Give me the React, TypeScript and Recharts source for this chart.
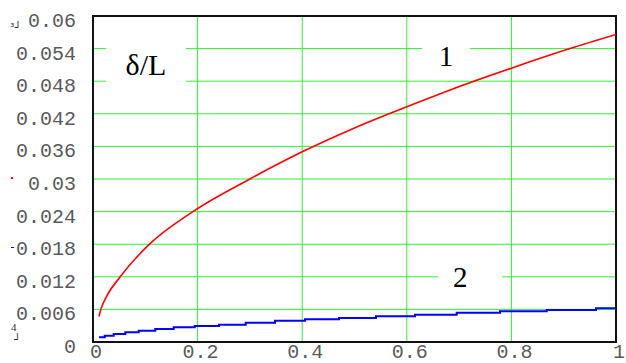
import { LineChart, Line, XAxis, YAxis, CartesianGrid, ReferenceArea } from "recharts";

// curve 1 (red)
const redX = [0.0115, 0.015, 0.0255, 0.052, 0.108, 0.191, 0.3, 0.4, 0.5, 0.6, 0.683, 0.8, 0.912, 1.0];
const redY = [0.0047, 0.006, 0.0083, 0.012, 0.018, 0.024, 0.03, 0.035, 0.0394, 0.0433, 0.0464, 0.0504, 0.054, 0.0566];

// curve 2 (blue), a staircase
const blueX = [0.0115, 0.0224, 0.0396, 0.0618, 0.0874, 0.1191, 0.1543, 0.1945, 0.2409, 0.292, 0.348, 0.4054, 0.4704, 0.5411, 0.6157, 0.6954, 0.7782, 0.8675, 0.9618, 1.0];
const blueY = [0.00087, 0.00116, 0.00147, 0.00179, 0.00208, 0.00239, 0.00271, 0.00294, 0.00318, 0.00355, 0.00392, 0.00418, 0.00442, 0.00473, 0.00502, 0.00539, 0.00565, 0.00589, 0.0062, 0.0062];

const xTicks = [0, 0.2, 0.4, 0.6, 0.8, 1];
const xLabels = ["0", "0.2", "0.4", "0.6", "0.8", "1"];
const yTicks = [0, 0.006, 0.012, 0.018, 0.024, 0.03, 0.036, 0.042, 0.048, 0.054, 0.06];
const yLabels = ["0", "0.006", "0.012", "0.018", "0.024", "0.03", "0.036", "0.042", "0.048", "0.054", "0.06"];

const red = redX.map((x, i) => ({ x, y: redY[i] }));
const blue = blueX.map((x, i) => ({ x, y: blueY[i] }));

const tickFont = {
  fontFamily: "'Liberation Mono', 'DejaVu Sans Mono', monospace",
  fontSize: 20,
  fill: "#5a5a5a",
};

function YTick({ x, y, payload }: any) {
  const i = yTicks.findIndex((t) => Math.abs(t - payload.value) < 1e-9);
  return (
    <text x={x} y={y + 11} textAnchor="end" {...tickFont}>
      {yLabels[i]}
    </text>
  );
}

function XTick({ x, y, payload }: any) {
  const i = xTicks.findIndex((t) => Math.abs(t - payload.value) < 1e-9);
  return (
    <text x={x + 3} y={y + 16} textAnchor="middle" {...tickFont}>
      {xLabels[i]}
    </text>
  );
}

const serif = "'Liberation Serif', 'DejaVu Serif', serif";

export default function App() {
  return (
    <div style={{ position: "absolute", left: 0, top: 0, width: 626, height: 363, background: "#fff" }}>
      <LineChart width={626} height={363} margin={{ top: 16, right: 10, left: 0, bottom: 0 }}>
        <CartesianGrid stroke="#33ee33" strokeWidth={1} vertical horizontal />
        <XAxis
          dataKey="x"
          type="number"
          domain={[0, 1]}
          ticks={xTicks}
          height={21}
          tickSize={0}
          tickMargin={0}
          axisLine={false}
          tickLine={false}
          tick={<XTick />}
          allowDataOverflow
        />
        <YAxis
          dataKey="y"
          type="number"
          domain={[0, 0.06]}
          ticks={yTicks}
          width={93}
          tickSize={0}
          tickMargin={17}
          axisLine={false}
          tickLine={false}
          tick={<YTick />}
          allowDataOverflow
        />
        <ReferenceArea x1={0} x2={1} y1={0} y2={0.06} fill="none" stroke="#111" strokeWidth={2} />
        <Line data={red} dataKey="y" type="monotone" stroke="#ff0000" strokeWidth={1.6} dot={false} isAnimationActive={false} />
        <Line data={blue} dataKey="y" type="stepAfter" stroke="#0000ff" strokeWidth={2} dot={false} isAnimationActive={false} />
      </LineChart>

      {/* text labels on white boxes that cut the grid */}
      <div style={{ position: "absolute", left: 106, top: 40, width: 80, height: 50, background: "#fff", fontFamily: serif, fontSize: 30, lineHeight: "50px", textAlign: "center", color: "#000" }}>
        δ/L
      </div>
      <div style={{ position: "absolute", left: 422, top: 40, width: 48, height: 32, background: "#fff", fontFamily: serif, fontSize: 29, lineHeight: "32px", textAlign: "center", color: "#000" }}>
        1
      </div>
      <div style={{ position: "absolute", left: 438, top: 262, width: 49, paddingLeft: 15, height: 30, background: "#fff", fontFamily: serif, fontSize: 29, lineHeight: "30px", textAlign: "left", color: "#000" }}>
        2
      </div>

      {/* small leftover marks at the left edge */}
      <div style={{ position: "absolute", left: 10, top: 22, fontFamily: "'DejaVu Sans', sans-serif", fontSize: 11, color: "#333", lineHeight: "11px" }}>
        ³┘
      </div>
      <div style={{ position: "absolute", left: 11, top: 177, width: 2, height: 2, background: "#ff0000" }} />
      <div style={{ position: "absolute", left: 11, top: 247, width: 3, height: 1, background: "#0000ff" }} />
      <div style={{ position: "absolute", left: 11, top: 322, fontFamily: serif, fontSize: 11, color: "#333", lineHeight: "11px" }}>
        4
      </div>
      <div style={{ position: "absolute", left: 14, top: 334, fontFamily: "'DejaVu Sans', sans-serif", fontSize: 11, color: "#333", lineHeight: "11px" }}>
        ┘
      </div>
    </div>
  );
}
